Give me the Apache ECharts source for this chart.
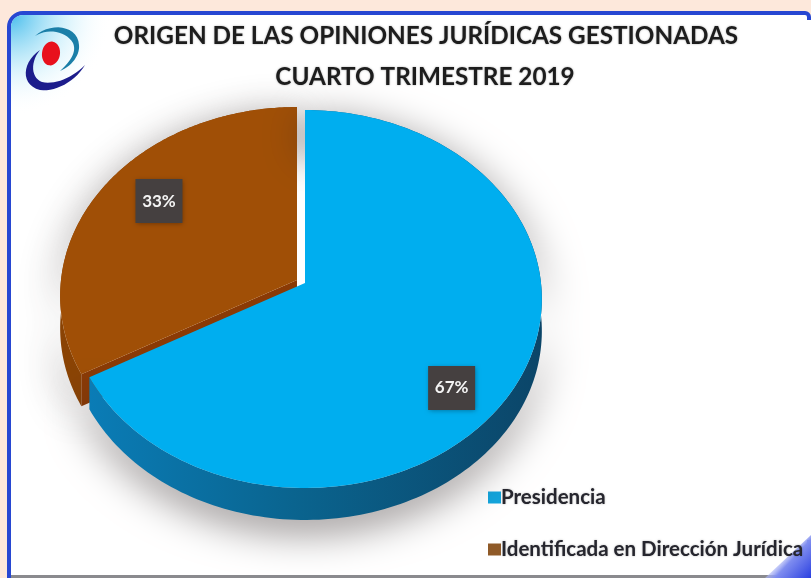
<!DOCTYPE html>
<html><head><meta charset="utf-8">
<style>html,body{margin:0;padding:0;background:#fde8db}#c{width:811px;height:578px}</style>
<script src="https://cdn.jsdelivr.net/npm/echarts@6/dist/echarts.min.js"></script>
</head><body><div id="c"></div>
<script>
const titleLines = ['ORIGEN DE LAS OPINIONES JURÍDICAS GESTIONADAS', 'CUARTO TRIMESTRE 2019'];
const categories = ['Presidencia', 'Identificada en Dirección Jurídica'];
const values = [67, 33];
const labels = ['67%', '33%'];

const total = values.reduce((a, b) => a + b, 0);
const persp = { cx: 305, cy: 283, ax: 236, ay: 187.6, k: 0.0847, depth: 32 };
function project(t, f, dx, dy) {
  const x = Math.sin(t) * f, y = -Math.cos(t) * f, w = 1 - persp.k * y;
  return [persp.cx + dx + persp.ax * x / w, persp.cy + dy + persp.ay * y / w];
}
function arc(a0, a1, dx, dy) {
  const out = [], n = 180;
  for (let i = 0; i <= n; i++) out.push(project(a0 + (a1 - a0) * i / n, 1, dx, dy));
  return out;
}
function curve(start, segs) {
  const pts = [start]; let p = start;
  segs.forEach(s => {
    for (let i = 1; i <= 14; i++) {
      const t = i / 14, u = 1 - t;
      pts.push([0, 1].map(k => u*u*u*p[k] + 3*u*u*t*s[0][k] + 3*u*t*t*s[1][k] + t*t*t*s[2][k]));
    }
    p = s[2];
  });
  return pts;
}
const looks = [
  { top: '#00aeef', side: new echarts.graphic.LinearGradient(0, 0, 1, 0, [
      { offset: 0, color: '#0a7cb6' }, { offset: 0.45, color: '#0a648f' }, { offset: 1, color: '#0b4568' }]),
    dx: 0, dy: 0, lx: 0, ly: 36 },
  { top: '#a04f06', side: '#8a4304', dx: -8, dy: -3, lx: 0, ly: -14 }
];
function sliceRenderer(idx) {
  return function (params, api) {
    const before = values.slice(0, idx).reduce((a, b) => a + b, 0);
    const a0 = before / total * 2 * Math.PI;
    const a1 = a0 + api.value(0) / total * 2 * Math.PI;
    const L = looks[idx];
    const top = arc(a0, a1, L.dx, L.dy);
    const bottom = arc(a0, a1, L.dx, L.dy + persp.depth).reverse();
    const apex = [persp.cx + L.dx, persp.cy + L.dy];
    const mid = project((a0 + a1) / 2, 0.7, L.dx + L.lx, L.dy + L.ly);
    const children = [];
    children.push({ type: 'polygon', shape: { points: top.concat(bottom) },
      style: { fill: L.side, shadowBlur: 42, shadowColor: 'rgba(50,40,40,0.6)', shadowOffsetY: 10 } });
    if (idx === 1) {
      const outer = top[0];
      children.push({ type: 'polygon',
        shape: { points: [apex, outer, [outer[0], outer[1] + persp.depth], [apex[0], apex[1] + persp.depth]] },
        style: { fill: '#8a3a05' } });
    }
    children.push({ type: 'polygon', shape: { points: [apex].concat(top) }, style: { fill: L.top } });
    children.push({ type: 'rect', shape: { x: mid[0] - 23.5, y: mid[1] - 22, width: 47, height: 44 },
      style: { fill: '#454040', shadowBlur: 5, shadowColor: 'rgba(0,0,0,0.35)', shadowOffsetX: 1, shadowOffsetY: 1 } });
    children.push({ type: 'text', x: mid[0], y: mid[1],
      style: { text: labels[idx], fill: '#f4f4f4', font: 'bold 17px Lato', align: 'center', verticalAlign: 'middle' } });
    return { type: 'group', children };
  };
}
function seriesFor(idx) {
  return { type: 'custom', name: categories[idx], coordinateSystem: 'none',
    itemStyle: { color: idx === 0 ? '#12a5dd' : '#8f5a28' },
    data: [[values[idx]]], renderItem: sliceRenderer(idx), silent: true, z: idx === 1 ? 3 : 4, animation: false };
}
const titleStyle = { fontFamily: 'Lato', fontWeight: 'bold', fontSize: 24.3, color: '#1d1d1d', textShadowBlur: 2, textShadowColor: 'rgba(0,0,0,0.35)' };
const chart = echarts.init(document.getElementById('c'), null, { renderer: 'canvas' });
chart.setOption({
  animation: false,
  backgroundColor: '#fde8db',
  title: [
    { text: titleLines[0], left: 421, top: 19, textAlign: 'center', textStyle: titleStyle },
    { text: titleLines[1], left: 420, top: 60, textAlign: 'center', textStyle: titleStyle }
  ],
  legend: {
    orient: 'vertical', left: 483, top: 482, itemWidth: 13, itemHeight: 12, itemGap: 31, icon: 'rect',
    data: categories,
    textStyle: { fontFamily: 'Lato', fontWeight: 'bold', fontSize: 20.5, color: '#26262e', padding: [0, 0, 0, -5], lineHeight: 20,
      textShadowBlur: 2, textShadowColor: 'rgba(0,0,0,0.3)' }
  },
  graphic: [
    { type: 'rect', z: -5, shape: { x: 9, y: 13, width: 800, height: 564, r: [14, 4, 0, 0] },
      style: { fill: '#ffffff', stroke: '#2747d2', lineWidth: 4 } },
    { type: 'rect', z: -4, shape: { x: 807, y: 20, width: 4, height: 520 }, style: { fill: '#ffffff' } },
    { type: 'rect', z: -4, shape: { x: 11, y: 15, width: 100, height: 100, r: [12, 0, 0, 0] },
      style: { fill: new echarts.graphic.RadialGradient(0, 0, 1, [
        { offset: 0, color: '#48bdec' }, { offset: 0.55, color: 'rgba(190,235,250,0.6)' }, { offset: 1, color: 'rgba(255,255,255,0)' }]) } },
    { type: 'rect', z: -4, shape: { x: 11, y: 575, width: 800, height: 3 }, style: { fill: '#8a8a8e' } },
    { type: 'polygon', z: -3, shape: { points: [[811, 535], [811, 578], [765, 578]] },
      style: { fill: new echarts.graphic.LinearGradient(1, 1, 0.3, 0.3, [
        { offset: 0, color: '#2a3fe0' }, { offset: 0.6, color: '#7f8df0' }, { offset: 1, color: 'rgba(255,255,255,0)' }]) } },
    { type: 'polygon', z: -2, shape: { points: curve([35, 36], [[[50, 22], [78, 25], [79, 45]], [[80, 55], [72, 66], [60, 71]], [[70, 62], [77, 52], [73, 43]], [[66, 31], [48, 28], [35, 36]]]) },
      style: { fill: '#1b7fa8' } },
    { type: 'polygon', z: -2, shape: { points: curve([40, 50], [[[22, 62], [20, 85], [40, 90]], [[55, 92], [75, 82], [85, 65]], [[72, 78], [55, 85], [42, 82]], [[31, 78], [30, 62], [40, 50]]]) },
      style: { fill: '#1c1d8c' } },
    { type: 'ellipse', z: -2, x: 51, y: 53.5, rotation: -0.15, shape: { cx: 0, cy: 0, rx: 9, ry: 12 }, style: { fill: '#e8101c' } }
  ],
  series: [seriesFor(1), seriesFor(0)]
});
</script></body></html>
